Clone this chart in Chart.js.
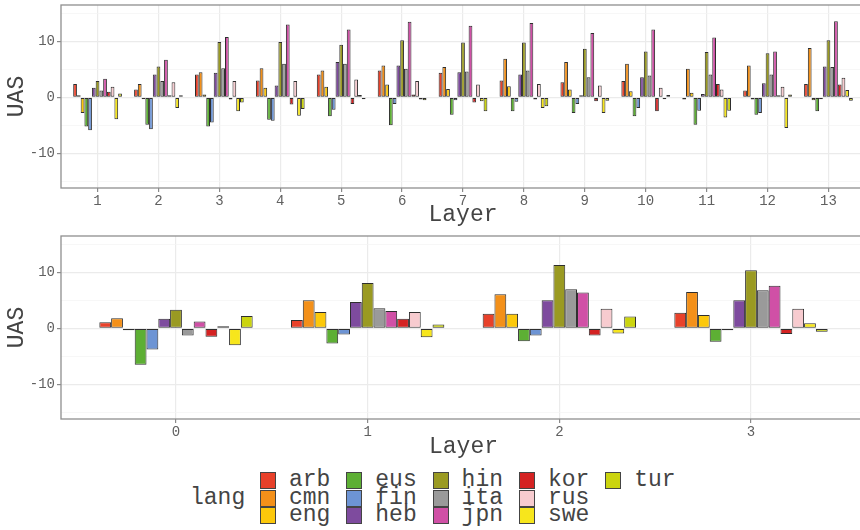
<!DOCTYPE html>
<html lang="en">
<head>
    <meta charset="UTF-8">
    <title>UAS by layer</title>
    <script src="https://cdn.jsdelivr.net/npm/chart.js"></script>
    <style>
        html, body {
            margin: 0;
            padding: 0;
            width: 860px;
            height: 530px;
            overflow: hidden;
            background: #fff;
        }

        canvas {
            position: absolute;
            left: 0;
        }

        #top-panel { top: 0; }
        #bottom-panel { top: 230px; }

        #legend {
            position: absolute;
            left: 0;
            top: 0;
            font-family: 'Liberation Mono', monospace;
            font-size: 23px;
            color: #444;
        }

        #legend .label {
            position: absolute;
            line-height: 18px;
            white-space: nowrap;
        }

        #legend .key {
            position: absolute;
            width: 14px;
            height: 15px;
            border: 1px solid #444;
        }
    </style>
</head>
<body>

    <canvas id="top-panel" width="872" height="232"></canvas>
    <canvas id="bottom-panel" width="872" height="232"></canvas>
    <div id="legend"></div>

    <script>
        // languages and their fill colours
        const LANGS = ['arb', 'cmn', 'eng', 'eus', 'fin', 'heb', 'hin', 'ita', 'jpn', 'kor', 'rus', 'swe', 'tur'];
        const LANG_COLORS = ['#e8412a', '#f39019', '#fcc80b', '#5daf34', '#6d94d4', '#7e4b9e', '#9a9a22',
                             '#9a9a9a', '#d050a6', '#d42222', '#f7cbcf', '#f7e61c', '#cbd40f'];

        // x categories
        const TOP_LAYERS = [1, 2, 3, 4, 5, 6, 7, 8, 9, 10, 11, 12, 13];
        const BOTTOM_LAYERS = [0, 1, 2, 3];

        // y ticks: labelled majors and unlabelled minor grid lines
        const Y_LABELS = [-10, 0, 10];
        const Y_MINOR = [-15, -5, 5, 15];

        // UAS per language (rows follow LANGS), one value per layer of the top panel
        const TOP_UAS = [
            [2.4, 1.4, 4.1, 3.0, 4.1, 4.8, 4.4, 3.0, 2.7, 2.9, -0.4, 1.2, 2.4],       // arb
            [0.1, 2.4, 4.5, 5.2, 4.8, 5.7, 5.4, 6.9, 6.3, 6.0, 5.1, 5.7, 8.8],        // cmn
            [-2.8, -0.2, 0.5, 1.7, 1.9, 2.3, 1.5, 2.0, 1.4, 1.1, 0.8, -0.4, -0.5],    // eng
            [-5.2, -4.9, -5.2, -4.0, -3.4, -5.0, -3.1, -2.5, -2.8, -3.4, -4.9, -3.1, -2.5], // eus
            [-5.9, -5.7, -4.5, -4.2, -2.2, -1.2, -0.5, -0.8, -1.2, -1.9, -2.4, -2.8, -0.1], // fin
            [1.7, 4.1, 4.4, 2.1, 6.3, 5.7, 4.5, 4.1, 0.3, 3.6, 0.6, 2.5, 5.5],        // heb
            [2.9, 5.5, 9.9, 9.9, 9.4, 10.2, 9.8, 9.8, 8.7, 8.2, 8.1, 7.9, 10.2],      // hin
            [1.2, 2.9, 5.2, 6.0, 6.0, 5.1, 4.6, 4.8, 3.6, 3.9, 4.1, 4.1, 5.4],        // ita
            [3.3, 6.7, 10.8, 13.0, 12.1, 13.5, 12.8, 13.3, 11.5, 12.1, 10.7, 8.2, 13.6], // jpn
            [1.0, 0.1, -0.4, -1.3, -1.2, 0.5, -0.9, -0.4, -0.7, -2.5, 2.4, 0.1, 2.3], // kor
            [1.9, 2.7, 2.9, 2.9, 3.2, 2.9, 2.3, 2.4, 2.1, 1.7, 1.4, 1.9, 3.5],        // rus
            [-3.9, -1.9, -2.5, -3.3, 0.4, -0.4, -0.7, -1.9, -2.8, -0.3, -3.6, -5.5, 1.3], // swe
            [0.7, 0.1, -0.9, -2.1, -0.3, -0.5, -2.5, -1.6, -0.6, 0.4, -2.4, 0.5, -0.6]  // tur
        ];

        // same for the bottom panel (layers 0-3)
        const BOTTOM_UAS = [
            [1.1, 1.5, 2.6, 2.8],      // arb
            [1.8, 5.0, 6.1, 6.5],      // cmn
            [-0.1, 2.9, 2.6, 2.4],     // eng
            [-6.5, -2.7, -2.3, -2.4],  // eus
            [-3.8, -1.1, -1.3, -0.2],  // fin
            [1.7, 4.7, 5.0, 5.0],      // heb
            [3.3, 8.1, 11.3, 10.4],    // hin
            [-1.3, 3.6, 7.0, 6.8],     // ita
            [1.2, 3.1, 6.4, 7.6],      // jpn
            [-1.5, 1.7, -1.3, -1.0],   // kor
            [0.1, 2.9, 3.5, 3.5],      // rus
            [-3.0, -1.6, -0.9, 0.9],   // swe
            [2.2, 0.7, 2.1, -0.6]      // tur
        ];

        const MONO = "'Liberation Mono', 'DejaVu Sans Mono', monospace";

        // draws the grey box round the panel
        const panelBorder = {
            id: 'panelBorder',
            afterDraw(chart) {
                const { ctx, chartArea: a } = chart;
                ctx.save();
                ctx.strokeStyle = '#8f8f8f';
                ctx.lineWidth = 1.3;
                ctx.strokeRect(a.left, a.top, a.right - a.left, a.bottom - a.top);
                ctx.restore();
            }
        };

        function isMajor(v) {
            return Y_LABELS.includes(v);
        }

        function buildPanel(canvas, layers, uas, area) {
            return new Chart(canvas, {
                type: 'bar',
                data: {
                    datasets: LANGS.map((lang, k) => ({
                        label: lang,
                        data: layers.map((layer, i) => ({ x: layer, y: uas[k][i] })),
                        backgroundColor: LANG_COLORS[k],
                        borderColor: '#2e2e2e',
                        borderWidth: 1,
                        borderSkipped: false,
                        minBarLength: 2,
                        barPercentage: 1,
                        categoryPercentage: 0.8
                    }))
                },
                options: {
                    responsive: false,
                    animation: false,
                    layout: { padding: { top: area.top, right: canvas.width - area.right, left: 0, bottom: 0 } },
                    plugins: { legend: { display: false }, tooltip: { enabled: false } },
                    scales: {
                        x: {
                            type: 'linear',
                            offset: false,
                            min: layers[0] - 0.6,
                            max: layers[layers.length - 1] + 0.6,
                            afterBuildTicks: s => { s.ticks = layers.map(v => ({ value: v })); },
                            afterFit: s => {
                                s.height = canvas.height - area.bottom;
                                s.paddingLeft = 0;
                                s.paddingRight = 0;
                            },
                            border: { display: false },
                            grid: { offset: false, color: '#ebebeb', lineWidth: 1.2, tickColor: '#8a8a8a', tickLength: 4 },
                            ticks: {
                                color: '#606060',
                                padding: 1,
                                maxRotation: 0,
                                autoSkip: false,
                                font: { family: MONO, size: 14 },
                                callback: v => String(v)
                            },
                            title: {
                                display: true,
                                text: 'Layer',
                                color: '#444',
                                padding: { top: 0, bottom: area.titlePad },
                                font: { family: MONO, size: 23 }
                            }
                        },
                        y: {
                            min: -16.2,
                            max: 16.5,
                            afterBuildTicks: s => {
                                s.ticks = Y_LABELS.concat(Y_MINOR).sort((a, b) => a - b).map(v => ({ value: v }));
                            },
                            afterFit: s => {
                                s.width = area.left;
                                s.paddingTop = 0;
                                s.paddingBottom = 0;
                            },
                            border: { display: false },
                            grid: {
                                color: c => isMajor(c.tick.value) ? '#ebebeb' : '#f4f4f4',
                                lineWidth: c => isMajor(c.tick.value) ? 1.2 : 0.7,
                                tickColor: c => isMajor(c.tick.value) ? '#8a8a8a' : 'rgba(0,0,0,0)',
                                tickLength: 4
                            },
                            ticks: {
                                color: '#606060',
                                padding: 2,
                                font: { family: MONO, size: 14 },
                                callback: v => isMajor(v) ? String(v) : ''
                            },
                            title: {
                                display: true,
                                text: 'UAS',
                                color: '#444',
                                padding: { top: 3, bottom: 0 },
                                font: { family: MONO, size: 23 }
                            }
                        }
                    }
                },
                plugins: [panelBorder]
            });
        }

        buildPanel(document.getElementById('top-panel'), TOP_LAYERS, TOP_UAS,
            { left: 61, top: 5, right: 865, bottom: 188, titlePad: 3 });
        buildPanel(document.getElementById('bottom-panel'), BOTTOM_LAYERS, BOTTOM_UAS,
            { left: 61, top: 6, right: 866, bottom: 189, titlePad: 1 });

        // legend (3 rows, filled column by column)
        const legend = document.getElementById('legend');
        const title = document.createElement('div');
        title.className = 'label';
        title.textContent = 'lang';
        title.style.left = '190px';
        title.style.top = '489px';
        legend.appendChild(title);

        LANGS.forEach((lang, i) => {
            const col = Math.floor(i / 3), row = i % 3;
            const x = 260 + col * 86.3, y = 472 + row * 17.5;
            const key = document.createElement('div');
            key.className = 'key';
            key.style.left = x + 'px';
            key.style.top = y + 'px';
            key.style.background = LANG_COLORS[i];
            legend.appendChild(key);
            const label = document.createElement('div');
            label.className = 'label';
            label.textContent = lang;
            label.style.left = (x + 29) + 'px';
            label.style.top = (y - 1) + 'px';
            legend.appendChild(label);
        });
    </script>

</body>
</html>
